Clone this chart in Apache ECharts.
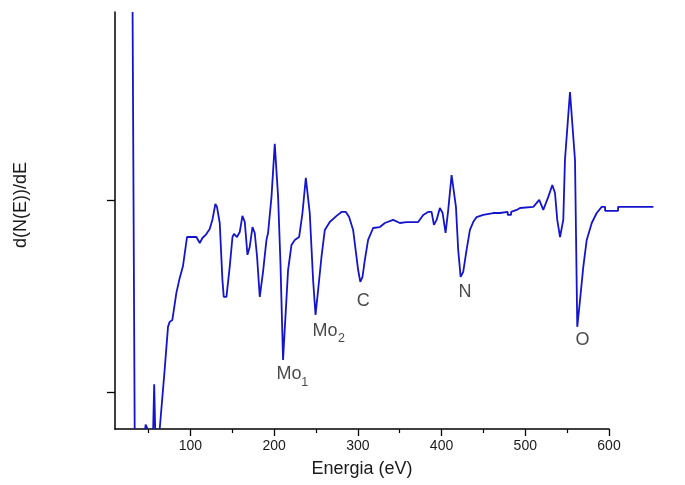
<!DOCTYPE html>
<html><head><meta charset="utf-8">
<script src="https://cdn.jsdelivr.net/npm/echarts@6/dist/echarts.min.js"></script>
<style>html,body{margin:0;padding:0;background:#fff}#c{width:685px;height:485px}</style>
</head><body><div id="c"></div>
<script>
// Energy (eV) of each traced point of the spectrum
const energy = [31.0, 33.5, 40, 46.0, 46.6, 48.4, 49.0, 52, 55.6, 56.8,
  58.0, 60, 63.4, 69.3, 73.3, 75.3, 78.5, 83.3, 87.3, 91.2,
  96.0, 107.2, 111.2, 114.4, 118.3, 123.1, 126.3, 129.9, 131.8, 135.1,
  138.3, 139.9, 143.1, 147.0, 150.3, 152.2, 155.7, 159.0, 162.2, 165.0,
  168.2, 170.9, 174.2, 176.9, 179.7, 182.9, 186.8, 190.9, 192.8, 196.9,
  200.8, 204.8, 207.6, 210.7, 216.7, 220.8, 224.7, 229.9, 233.9, 237.9,
  239.4, 242.6, 246.6, 249.5, 252.6, 256.6, 260.6, 266.5, 274.6, 280.5,
  285.7, 289.6, 294.4, 300.4, 303.0, 305.6, 308.4, 312.3, 318.3, 326.3,
  332.3, 342.2, 350.2, 358.2, 372.1, 378.1, 384.0, 388.1, 390.9, 394.1,
  398.0, 401.3, 404.8, 408.0, 412.0, 413.9, 417.2, 419.9, 422.8, 425.9,
  429.9, 433.9, 437.8, 441.9, 449.8, 461.7, 469.8, 479.0, 479.1, 483.0,
  483.1, 489.7, 493.7, 509.6, 516.7, 521.5, 527.5, 532.3, 535.5, 538.2,
  541.5, 545.4, 547.4, 553.4, 555.5, 559.4, 562.1, 565.4, 569.3, 573.4,
  579.4, 585.3, 591.3, 595.3, 595.4, 610.8, 610.9, 653.0];
// d(N(E))/dE in arbitrary units (null = off scale, line broken)
const signal = [0.979, -1.193, null, -1.193, -1.17, -1.17, -1.193, null, -1.193, -0.96,
  -1.193, null, -1.193, -0.885, -0.661, -0.635, -0.625, -0.484, -0.406, -0.344,
  -0.193, -0.193, -0.224, -0.198, -0.182, -0.151, -0.104, -0.021, -0.036, -0.120,
  -0.417, -0.505, -0.505, -0.349, -0.193, -0.177, -0.193, -0.167, -0.083, -0.115,
  -0.286, -0.245, -0.141, -0.172, -0.297, -0.505, -0.375, -0.208, -0.172, 0.016,
  0.292, 0.016, -0.328, -0.833, -0.365, -0.234, -0.208, -0.193, -0.068, 0.115,
  0.115, -0.068, -0.417, -0.599, -0.469, -0.297, -0.156, -0.115, -0.083, -0.0625,
  -0.0625, -0.089, -0.156, -0.365, -0.427, -0.401, -0.3125, -0.208, -0.146, -0.141,
  -0.120, -0.104, -0.120, -0.115, -0.115, -0.078, -0.0625, -0.0625, -0.130, -0.104,
  -0.042, -0.068, -0.172, -0.052, 0.130, 0.130, -0.036, -0.260, -0.401, -0.375,
  -0.260, -0.156, -0.115, -0.089, -0.078, -0.068, -0.068, -0.0625, -0.078, -0.078,
  -0.0625, -0.052, -0.042, -0.036, 0.0, -0.052, 0.016, 0.078, 0.036, -0.104,
  -0.193, -0.104, 0.208, 0.5625, 0.557, 0.208, -0.661, -0.521, -0.349, -0.208,
  -0.120, -0.068, -0.036, -0.036, -0.057, -0.057, -0.036, -0.036];

const xTickValues = [100, 200, 300, 400, 500, 600];
const xMinorTickValues = [50, 150, 250, 350, 450, 550];
const yTickValues = [-1, 0];

// Peak annotations (text, energy, signal)
const labelTexts = ['Mo', '1', 'Mo', '2', 'C', 'N', 'O'];
const labelEnergy = [217.8, 236.7, 260.9, 280.5, 306.4, 427.9, 568.4];
const labelSignal = [-0.907, -0.951, -0.681, -0.724, -0.526, -0.477, -0.729];
const labelIsSub = [false, true, false, true, false, false, false];

const X_MIN = 10, X_MAX = 600, Y_MIN = -1.193, Y_MAX = 0.979;
const GRID_LEFT = 115, GRID_TOP = 12, GRID_W = 494, GRID_H = 417;
// the trace runs past the 600 eV end of the axis: a wider, hidden grid with the same scale carries it
const PX_PER_EV = GRID_W / (X_MAX - X_MIN);
const WIDE_W = 560;
const WIDE_MAX = X_MIN + WIDE_W / PX_PER_EV;

const FONT = '"Liberation Sans", Arial, sans-serif';
const TXT = '#1a1a1a';

const chart = echarts.init(document.getElementById('c'), null, {renderer: 'canvas'});
const lineData = energy.map((e, i) => [e, signal[i] === null ? '-' : signal[i]]);
const annData = labelTexts.map((t, i) => ({
  name: t,
  value: [labelEnergy[i], labelSignal[i]],
  label: {fontSize: labelIsSub[i] ? 12.5 : 18}
}));

chart.setOption({
  animation: false,
  backgroundColor: '#fff',
  grid: [
    {left: GRID_LEFT, top: GRID_TOP, width: GRID_W, height: GRID_H, containLabel: false},
    {left: GRID_LEFT, top: GRID_TOP, width: WIDE_W, height: GRID_H, containLabel: false}
  ],
  xAxis: [{
    type: 'value', gridIndex: 0, min: X_MIN, max: X_MAX,
    name: 'Energia (eV)', nameLocation: 'middle', nameGap: 31,
    nameTextStyle: {fontFamily: FONT, fontSize: 18, color: TXT},
    axisLine: {show: true, onZero: false, lineStyle: {color: '#000', width: 1.5}},
    axisTick: {show: true, inside: false, length: 7, customValues: xTickValues, lineStyle: {color: '#000', width: 1.3}},
    axisLabel: {show: true, customValues: xTickValues, margin: 10, fontFamily: FONT, fontSize: 14, color: TXT},
    splitLine: {show: false}
  }, {
    type: 'value', gridIndex: 0, min: X_MIN, max: X_MAX, position: 'bottom',
    axisLine: {show: false, onZero: false},
    axisTick: {show: true, inside: false, length: 4, customValues: xMinorTickValues, lineStyle: {color: '#000', width: 1.2}},
    axisLabel: {show: false},
    splitLine: {show: false}
  }, {
    type: 'value', gridIndex: 1, min: X_MIN, max: WIDE_MAX, show: false,
    axisLine: {onZero: false}
  }],
  yAxis: [{
    type: 'value', gridIndex: 0, min: Y_MIN, max: Y_MAX,
    axisLine: {show: true, onZero: false, lineStyle: {color: '#000', width: 1.5}},
    axisTick: {show: true, inside: false, length: 8, customValues: yTickValues, lineStyle: {color: '#000', width: 1.3}},
    axisLabel: {show: false},
    splitLine: {show: false}
  }, {
    type: 'value', gridIndex: 1, min: Y_MIN, max: Y_MAX, show: false,
    axisLine: {onZero: false}
  }],
  graphic: [{
    type: 'text', x: 21, y: 205, rotation: Math.PI / 2,
    style: {text: 'd(N(E))/dE', fontFamily: FONT, fontSize: 18, fill: TXT, align: 'center', verticalAlign: 'middle'}
  }],
  series: [{
    type: 'line', xAxisIndex: 2, yAxisIndex: 1, data: lineData, symbol: 'none', clip: false,
    connectNulls: false, silent: true,
    lineStyle: {color: '#1414cc', width: 1.8}
  }, {
    type: 'scatter', xAxisIndex: 0, yAxisIndex: 0, data: annData, symbolSize: 0, silent: true,
    label: {show: true, position: 'inside', formatter: p => p.name, fontFamily: FONT, color: TXT}
  }]
});
</script>
</body></html>
